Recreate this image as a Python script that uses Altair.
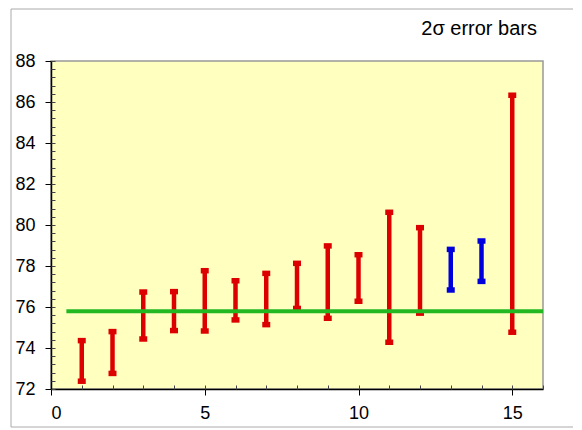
import altair as alt
import pandas as pd

# ---- data ----
xs = list(range(1, 16))
lows = [72.38, 72.76, 74.44, 74.85, 74.83, 75.37, 75.14, 75.93, 75.45, 76.28, 74.28, 75.70, 76.83, 77.25, 74.77]
highs = [74.36, 74.80, 76.73, 76.75, 77.77, 77.28, 77.64, 78.13, 78.98, 78.55, 80.62, 79.87, 78.81, 79.22, 86.33]
groups = ["a"] * 12 + ["b", "b"] + ["a"]
ref_value = 75.79
ref_x = [0.5, 16]
title_text = "2σ error bars"

x_major = [0, 5, 10, 15]
x_minor = list(range(0, 17))
y_major = list(range(72, 89, 2))
y_minor = [round(72 + 0.4 * i, 1) for i in range(41)]

df = pd.DataFrame({"x": xs, "lo": lows, "hi": highs, "g": groups})
ref = pd.DataFrame({"x": [ref_x[0]], "x2": [ref_x[1]], "y": [ref_value]})

FONT = "Liberation Sans"
xscale = alt.Scale(domain=[0, 16], nice=False)
yscale = alt.Scale(domain=[72, 88], nice=False)
color = alt.Color("g:N", scale=alt.Scale(domain=["a", "b"], range=["#DD0000", "#0000DD"]), legend=None)

axis_common = dict(grid=False, domainColor="black", domainWidth=1.5, tickColor="black",
                   tickWidth=1, tickSize=6, labelFont=FONT, labelFontSize=18,
                   labelColor="black", title=None)
x_axis_main = alt.Axis(orient="bottom", values=x_major, labelPadding=9, format="d", **axis_common)
y_axis_main = alt.Axis(orient="left", values=y_major, labelPadding=10, format="d", **axis_common)

x_axis_minor = alt.Axis(orient="bottom", values=x_minor, offset=-4, tickSize=4, tickColor="#444444",
                        domain=False, labels=False, grid=False, title=None)
y_axis_minor = alt.Axis(orient="left", values=y_minor, offset=-4, tickSize=4, tickColor="#444444",
                        domain=False, labels=False, grid=False, title=None)

frame = alt.Chart(pd.DataFrame({"a": [0]})).mark_rect(fill=None, stroke="#AAAAAA", strokeWidth=1).encode(
    x=alt.value(-40), x2=alt.value(600), y=alt.value(-52), y2=alt.value(366)
)

title = alt.Chart(pd.DataFrame({"t": [title_text]})).mark_text(
    align="right", baseline="alphabetic", font=FONT, fontSize=20, color="black"
).encode(text="t:N", x=alt.value(486), y=alt.value(-26))

bars = alt.Chart(df).mark_rule(strokeWidth=4.5, opacity=1).encode(
    x=alt.X("x:Q", scale=xscale, axis=x_axis_main),
    y=alt.Y("lo:Q", scale=yscale, axis=y_axis_main),
    y2="hi:Q",
    color=color,
)

cap_lo = alt.Chart(df).mark_tick(orient="horizontal", size=8, thickness=5.5, opacity=1).encode(
    x=alt.X("x:Q", scale=xscale, axis=x_axis_minor),
    y=alt.Y("lo:Q", scale=yscale, axis=y_axis_minor),
    color=color,
)
cap_hi = alt.Chart(df).mark_tick(orient="horizontal", size=8, thickness=5.5, opacity=1).encode(
    x=alt.X("x:Q", scale=xscale, axis=None),
    y=alt.Y("hi:Q", scale=yscale, axis=None),
    color=color,
)

line = alt.Chart(ref).mark_rule(strokeWidth=4, color="#22B822").encode(
    x=alt.X("x:Q", scale=xscale, axis=None),
    x2="x2:Q",
    y=alt.Y("y:Q", scale=yscale, axis=None),
)

chart = alt.layer(frame, title, bars, cap_lo, cap_hi, line).resolve_axis(
    x="independent", y="independent"
).resolve_scale(x="shared", y="shared").properties(
    width=492, height=328,
    autosize="none",
    padding={"left": 43, "top": 53, "right": 30, "bottom": 41},
).configure_view(fill="#FFFFC0", stroke="#999999", strokeWidth=1.5)

chart.save("out.html", embed_options={"renderer": "svg", "actions": False})
